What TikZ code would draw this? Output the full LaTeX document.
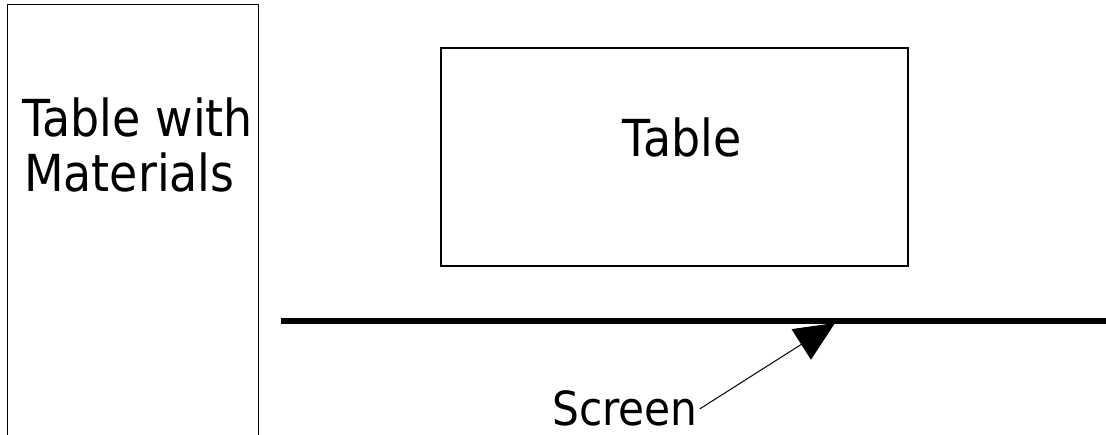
\documentclass[tikz,border=0pt]{standalone}
\usepackage{fontspec}
\setmainfont{DejaVu Sans}[FakeStretch=0.9]
\usetikzlibrary{arrows.meta}
\begin{document}
\begin{tikzpicture}[x=1pt,y=1pt,
  outline/.style={draw=black,line width=1.7pt},
  bigtext/.style={inner sep=0pt,font=\fontsize{51}{56}\selectfont},
  labeltext/.style={inner sep=2pt,font=\fontsize{47}{50}\selectfont},
  screenline/.style={line width=6pt,line cap=butt},
  pointer/.style={line width=1pt,-{Triangle[length=40pt,width=36pt]}}]
\useasboundingbox (0,0) rectangle (1106,435);
% table with materials (runs past the bottom edge)
\draw[outline] (7.5,430.5) rectangle (258.5,-10);
\node[bigtext,anchor=base west] (mat1) at (22,298) {Table with};
\node[bigtext,anchor=base west] (mat2) at (24,243) {Materials};
% table
\node[outline,minimum width=467pt,minimum height=218pt,inner sep=0pt] (table) at (674.75,278) {};
\node[bigtext,anchor=base] (tablelbl) at (682,278) {Table};
% screen
\coordinate (sl) at (281,113.5);
\coordinate (sr) at (1112,113.5);
\draw[screenline] (sl) -- (sr);
\coordinate (tip) at (835,112);
\node[labeltext,anchor=base west] (screen) at (550,9) {Screen};
\draw[pointer] (screen.east) -- (tip);
\end{tikzpicture}
\end{document}
